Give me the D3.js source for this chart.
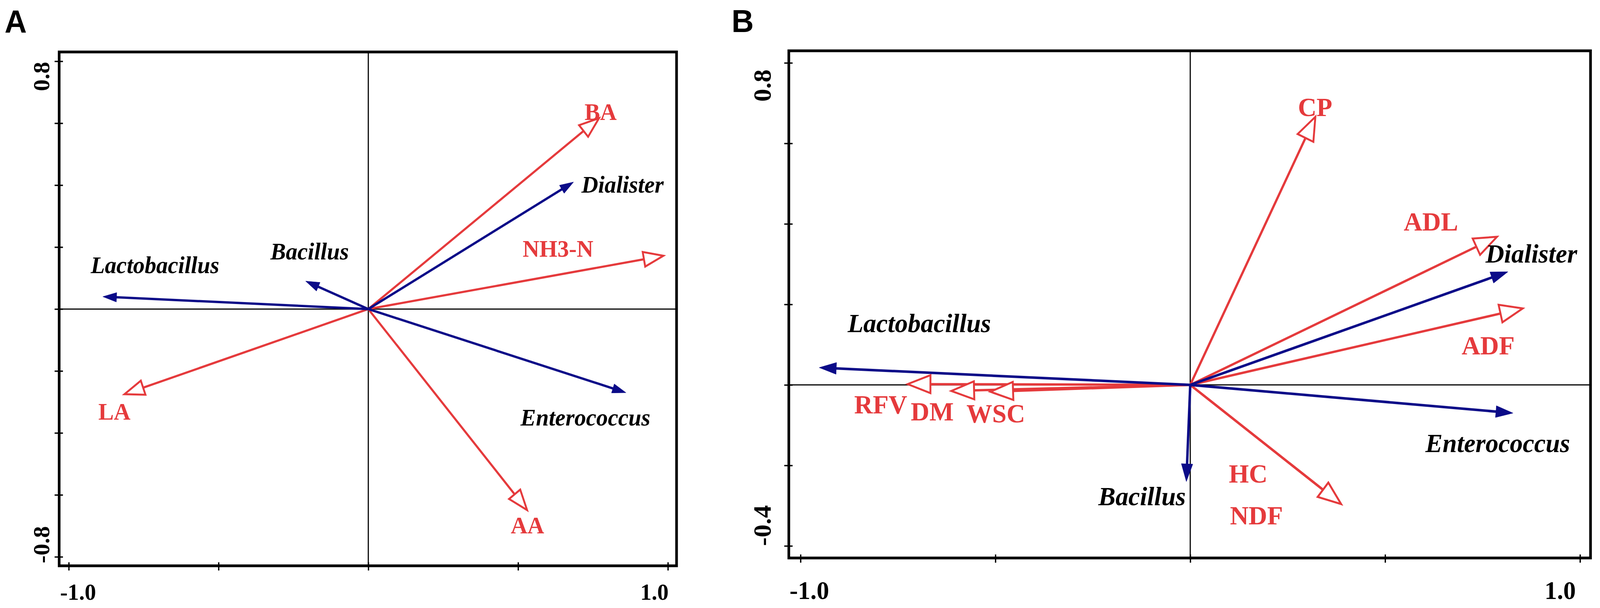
<!DOCTYPE html>
<html>
<head>
<meta charset="utf-8">
<script src="https://cdn.jsdelivr.net/npm/d3@7/dist/d3.min.js"></script>
<style>
  html, body { margin: 0; padding: 0; background: #ffffff; overflow: hidden; }
  svg { display: block; width: 100vw; height: 100vh; }
</style>
</head>
<body>
<svg id="chart" viewBox="0 0 4219 1556" preserveAspectRatio="none"></svg>
<script>
// ---------------- DATA ----------------
// Panel A : species (blue, filled heads) and environmental factors (red, hollow heads)
const speciesA   = ["Dialister", "Bacillus", "Lactobacillus", "Enterococcus"];
const speciesA_x = [0.685, -0.209, -0.886, 0.860];
const speciesA_y = [0.410,  0.090,  0.040, -0.270];
const envA       = ["BA", "NH3-N", "LA", "AA"];
const envA_x     = [0.770, 0.985, -0.814, 0.530];
const envA_y     = [0.616, 0.172, -0.275, -0.649];

// Panel B
const speciesB   = ["Dialister", "Lactobacillus", "Enterococcus", "Bacillus"];
const speciesB_x = [0.815, -0.952, 0.828, -0.010];
const speciesB_y = [0.281,  0.043, -0.070, -0.240];
const envB       = ["CP", "ADL", "ADF", "RFV", "DM", "WSC", "HC", "NDF"];
const envB_x     = [0.321, 0.787, 0.853, -0.725, -0.613, -0.513, 0.387, 0.387];
const envB_y     = [0.666, 0.368, 0.190,  0.002, -0.015, -0.017, -0.296, -0.296];

// Axis ticks and tick labels
const xTicksA = [-1, -0.5, 0, 0.5, 1];
const yTicksA = [-0.8, -0.6, -0.4, -0.2, 0, 0.2, 0.4, 0.6, 0.8];
const xTicksB = [-1, -0.5, 0, 0.5, 1];
const yTicksB = [-0.4, -0.2, 0, 0.2, 0.4, 0.6, 0.8];
const xLabelValsA = [-1, 1], xLabelTextA = ["-1.0", "1.0"];
const yLabelValsA = [0.8, -0.8], yLabelTextA = ["0.8", "-0.8"];
const xLabelValsB = [-1, 1], xLabelTextB = ["-1.0", "1.0"];
const yLabelValsB = [0.8, -0.4], yLabelTextB = ["0.8", "-0.4"];

// ---------------- LAYOUT / STYLE ----------------
const RED = "#e53a3c", BLUE = "#0b0b88";
const SERIF = "'Liberation Serif','Times New Roman',Times,serif";

const panels = [
  {
    letter: "A", letterX: 12, letterY: 83,
    frame: {x0: 156, x1: 1784, y0: 133, y1: 1448},
    xDomain: [-1.032, 1.029], yDomain: [-0.829, 0.83],
    xTicks: xTicksA, yTicks: yTicksA,
    xLabVals: xLabelValsA, xLabText: xLabelTextA,
    yLabVals: yLabelValsA, yLabText: yLabelTextA,
    xLabOffset: [-23, 2], xLabAnchor: ["start", "end"], xLabBase: 1535,
    yLabOffset: [39, -31], yLabBase: 130, tickFont: 60,
    species: speciesA, sx: speciesA_x, sy: speciesA_y,
    env: envA, ex: envA_x, ey: envA_y,
    labelFont: 61,
    speciesLab: {"Dialister": [21, 27], "Bacillus": [-93, -56], "Lactobacillus": [-32, -60], "Enterococcus": [-278, 84]},
    envLab: {"BA": [-38, 4], "NH3-N": [-371, 2], "LA": [-69, 65], "AA": [-43, 60]},
    blueHead: [36, 12], redHead: [52, 19], blueW: 6, redW: 5.5
  },
  {
    letter: "B", letterX: 1929, letterY: 82,
    frame: {x0: 2080, x1: 4194, y0: 130, y1: 1428},
    xDomain: [-1.030, 1.027], yDomain: [-0.43, 0.83],
    xTicks: xTicksB, yTicks: yTicksB,
    xLabVals: xLabelValsB, xLabText: xLabelTextB,
    yLabVals: yLabelValsB, yLabText: yLabelTextB,
    xLabOffset: [-29, -11], xLabAnchor: ["start", "end"], xLabBase: 1533,
    yLabOffset: [58, -52], yLabBase: 2032, tickFont: 66,
    species: speciesB, sx: speciesB_x, sy: speciesB_y,
    env: envB, ex: envB_x, ey: envB_y,
    labelFont: 68,
    speciesLab: {"Dialister": [-59, -24], "Lactobacillus": [75, -91], "Enterococcus": [-231, 100], "Bacillus": [-232, 61]},
    envLab: {"CP": [-46, -2], "ADL": [-246, -16], "ADF": [-161, 118], "RFV": [-141, 75], "DM": [-107, 76], "WSC": [-63, 78], "HC": [-296, -55], "NDF": [-293, 52]},
    blueHead: [45, 15], redHead: [60, 23], blueW: 6.5, redW: 6
  }
];

const svg = d3.select("#chart");
svg.append("rect").attr("width", 4219).attr("height", 1556).attr("fill", "#fff");

function drawArrow(g, x, y, vx, vy, color, head, width, hollow) {
  const x0 = x(0), y0 = y(0), x1 = x(vx), y1 = y(vy);
  const dx = x1 - x0, dy = y1 - y0, len = Math.hypot(dx, dy);
  const ux = dx / len, uy = dy / len, px = -uy, py = ux;
  const L = head[0], Wd = head[1];
  const bx = x1 - ux * L, by = y1 - uy * L;
  const shaftEnd = hollow ? 0 : L * 0.3;
  g.append("line")
    .attr("x1", x0).attr("y1", y0)
    .attr("x2", bx + ux * shaftEnd).attr("y2", by + uy * shaftEnd)
    .attr("stroke", color).attr("stroke-width", width);
  const pts = [[x1, y1], [bx + px * Wd, by + py * Wd], [bx - px * Wd, by - py * Wd]];
  g.append("polygon")
    .attr("points", pts.map(p => p.join(",")).join(" "))
    .attr("fill", hollow ? "#fff" : color)
    .attr("stroke", color)
    .attr("stroke-width", hollow ? 5 : 1)
    .attr("stroke-linejoin", "miter");
}

panels.forEach(P => {
  const f = P.frame;
  const x = d3.scaleLinear().domain(P.xDomain).range([f.x0, f.x1]);
  const y = d3.scaleLinear().domain(P.yDomain).range([f.y1, f.y0]);
  const g = svg.append("g");

  // panel letter
  g.append("text").attr("x", P.letterX).attr("y", P.letterY)
    .attr("font-family", "'Liberation Sans',Arial,sans-serif").attr("font-weight", "bold")
    .attr("font-size", 81).attr("fill", "#000").text(P.letter);

  // cross lines through origin
  g.append("line").attr("x1", x(0)).attr("x2", x(0)).attr("y1", f.y0).attr("y2", f.y1)
    .attr("stroke", "#000").attr("stroke-width", 3);
  g.append("line").attr("x1", f.x0).attr("x2", f.x1).attr("y1", y(0)).attr("y2", y(0))
    .attr("stroke", "#000").attr("stroke-width", 3);

  // environmental arrows (red, hollow)
  const gEnv = g.append("g");
  P.env.forEach((n, i) => drawArrow(gEnv, x, y, P.ex[i], P.ey[i], RED, P.redHead, P.redW, true));
  // species arrows (blue, filled)
  const gSp = g.append("g");
  P.species.forEach((n, i) => drawArrow(gSp, x, y, P.sx[i], P.sy[i], BLUE, P.blueHead, P.blueW, false));

  // frame
  g.append("rect").attr("x", f.x0).attr("y", f.y0)
    .attr("width", f.x1 - f.x0).attr("height", f.y1 - f.y0)
    .attr("fill", "none").attr("stroke", "#000").attr("stroke-width", 7);

  // ticks crossing the axes
  const ax = g.append("g").attr("transform", `translate(0,${f.y1 - 9})`)
    .call(d3.axisBottom(x).tickValues(P.xTicks).tickSize(21).tickFormat(""));
  ax.select(".domain").remove();
  ax.selectAll("line").attr("stroke", "#000").attr("stroke-width", 3.5);
  const ay = g.append("g").attr("transform", `translate(${f.x0 + 10},0)`)
    .call(d3.axisLeft(y).tickValues(P.yTicks).tickSize(22).tickFormat(""));
  ay.select(".domain").remove();
  ay.selectAll("line").attr("stroke", "#000").attr("stroke-width", 3.5);

  // tick labels
  P.xLabVals.forEach((v, i) => {
    g.append("text").attr("x", x(v) + P.xLabOffset[i]).attr("y", P.xLabBase)
      .attr("text-anchor", P.xLabAnchor[i])
      .attr("font-family", SERIF).attr("font-weight", "bold").attr("font-size", P.tickFont)
      .attr("fill", "#000").text(P.xLabText[i]);
  });
  P.yLabVals.forEach((v, i) => {
    const cy = y(v) + P.yLabOffset[i];
    g.append("text").attr("transform", `translate(${P.yLabBase},${cy}) rotate(-90)`)
      .attr("text-anchor", "middle")
      .attr("font-family", SERIF).attr("font-weight", "bold").attr("font-size", P.tickFont)
      .attr("fill", "#000").text(P.yLabText[i]);
  });

  // arrow labels
  P.env.forEach((n, i) => {
    const o = P.envLab[n];
    g.append("text").attr("x", x(P.ex[i]) + o[0]).attr("y", y(P.ey[i]) + o[1])
      .attr("font-family", SERIF).attr("font-weight", "bold").attr("font-size", P.labelFont)
      .attr("fill", RED).text(n);
  });
  P.species.forEach((n, i) => {
    const o = P.speciesLab[n];
    g.append("text").attr("x", x(P.sx[i]) + o[0]).attr("y", y(P.sy[i]) + o[1])
      .attr("font-family", SERIF).attr("font-weight", "bold").attr("font-style", "italic")
      .attr("font-size", P.labelFont).attr("fill", "#000").text(n);
  });
});
</script>
</body>
</html>
